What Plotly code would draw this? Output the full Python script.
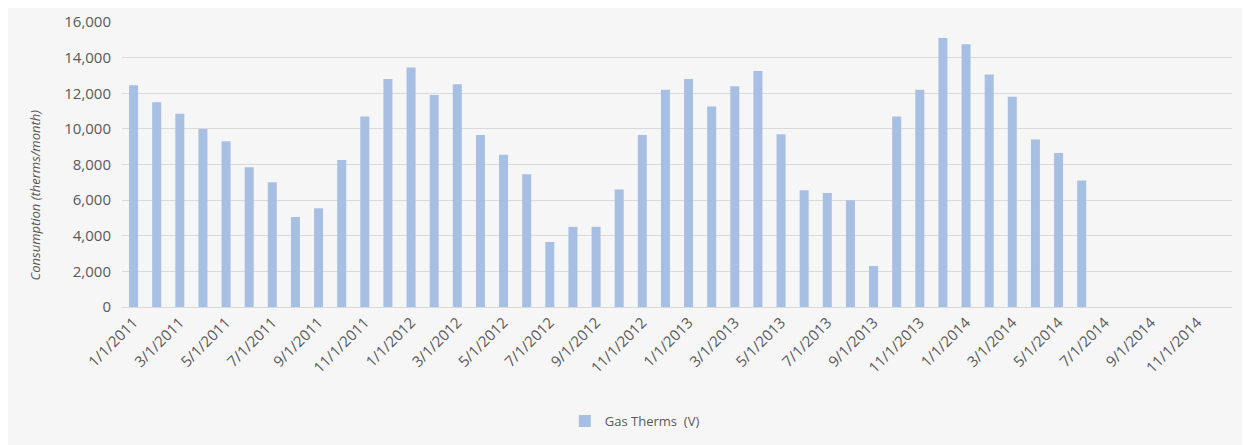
import plotly.graph_objects as go

months = [f"{m}/1/{y}" for y in (2011, 2012, 2013, 2014) for m in range(1, 13)]

gas_therms = [
    12450, 11500, 10850, 10000, 9300, 7850, 7000, 5050, 5550, 8250, 10700, 12800,
    13450, 11900, 12500, 9650, 8550, 7450, 3650, 4500, 4500, 6600, 9650, 12200,
    12800, 11250, 12400, 13250, 9700, 6550, 6400, 6000, 2300, 10700, 12200, 15100,
    14750, 13050, 11800, 9400, 8650, 7100, None, None, None, None, None, None,
]

tick_labels = months[::2]

series_name = "Gas Therms  (V)"
y_title = "Consumption (therms/month)"

fig = go.Figure()
fig.add_trace(go.Bar(
    x=months, y=gas_therms, name=series_name,
    marker=dict(color="#a7bfe2", line=dict(width=0)),
    showlegend=True,
))

txt = "#595959"
fig.update_layout(
    width=1242, height=437,
    paper_bgcolor="#f6f6f6", plot_bgcolor="#f6f6f6",
    margin=dict(l=114, r=18, t=14, b=138, autoexpand=False),
    bargap=0.61,
    font=dict(family="Open Sans", color=txt, size=13),
    showlegend=True,
    legend=dict(orientation="h", x=0.462, xanchor="center", y=-0.40, yanchor="middle",
                font=dict(size=13, color=txt), bgcolor="rgba(0,0,0,0)"),
    xaxis=dict(
        type="category", categoryorder="array", categoryarray=months,
        range=[-0.5, 47.5], automargin=False,
        tickmode="array", tickvals=tick_labels, ticktext=tick_labels,
        tickangle=-45, tickfont=dict(size=15, color=txt),
        showgrid=False, showline=True, linecolor="#d9d9d9", linewidth=1,
        ticks="", zeroline=False,
    ),
    yaxis=dict(
        range=[0, 16000], tickvals=list(range(0, 16001, 2000)), automargin=False,
        tickformat=",", tickfont=dict(size=15, color=txt), ticklabelstandoff=10,
        showgrid=True, gridcolor="#d9d9d9", gridwidth=1,
        zeroline=False, showline=False, ticks="", ticklen=0,
    ),
    annotations=[dict(
        text="<i>" + y_title + "</i>", textangle=-90, xref="paper", yref="paper",
        x=-0.078, y=0.393, xanchor="center", yanchor="middle", showarrow=False,
        font=dict(size=13, color=txt, family="Open Sans"),
    )],
)

fig.write_html("out.html")
